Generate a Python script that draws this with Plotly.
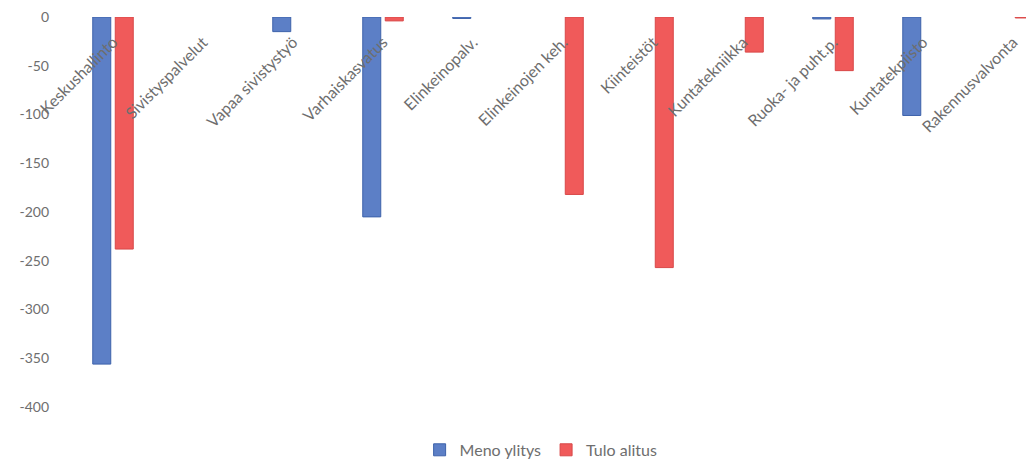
import plotly.graph_objects as go

categories = ["Keskushallinto", "Sivistyspalvelut", "Vapaa sivistystyö", "Varhaiskasvatus",
              "Elinkeinopalv.", "Elinkeinojen keh.", "Kiinteistöt", "Kuntatekniikka",
              "Ruoka- ja puht.p.", "Kuntatekpiisto", "Rakennusvalvonta"]
meno_ylitys = [-356, None, -15, -205, -1.5, None, None, None, -2, -101, None]
tulo_alitus = [-238, None, None, -4, None, -182, -257, -36, -55, None, -1]
y_ticks = [0, -50, -100, -150, -200, -250, -300, -350, -400]
y_tick_text = ["0", "-50", "-100", "-150", "-200", "-250", "-300", "-350", "-400"]

FONT = "Lato"
GRAY = "#6e6e6e"

fig = go.Figure()
fig.add_trace(go.Bar(x=categories, y=meno_ylitys, name="Meno ylitys",
                     marker=dict(color="#5c7fc6", line=dict(color="#3d62aa", width=1))))
fig.add_trace(go.Bar(x=categories, y=tulo_alitus, name="Tulo alitus",
                     marker=dict(color="#f05a5a", line=dict(color="#d84848", width=1))))

fig.update_layout(
    width=1026, height=453,
    margin=dict(l=60, r=0, t=9, b=54, autoexpand=False),
    paper_bgcolor="white", plot_bgcolor="white",
    barmode="group", bargap=0.5, bargroupgap=0.2,
    font=dict(family=FONT, size=14, color=GRAY),
    showlegend=True,
    legend=dict(orientation="h", x=0.364, xanchor="left", y=-0.11, yanchor="middle",
                font=dict(size=16, color=GRAY), itemwidth=30, traceorder="normal"),
    xaxis=dict(type="category", range=[-0.5, 10.233], anchor="free", position=1, side="bottom",
               tickangle=-45, showline=False, showgrid=False, zeroline=False, ticks="",
               automargin=False, ticklabelstandoff=12, ticklabeloverflow="allow",
               tickfont=dict(size=16, color=GRAY)),
    yaxis=dict(range=[-400, 0], tickvals=y_ticks, ticktext=y_tick_text, showgrid=False,
               zeroline=False, showline=False, ticks="", automargin=False,
               ticklabeloverflow="allow", ticklabelstandoff=18,
               tickfont=dict(size=14, color=GRAY)),
)

fig.write_html("out.html")
